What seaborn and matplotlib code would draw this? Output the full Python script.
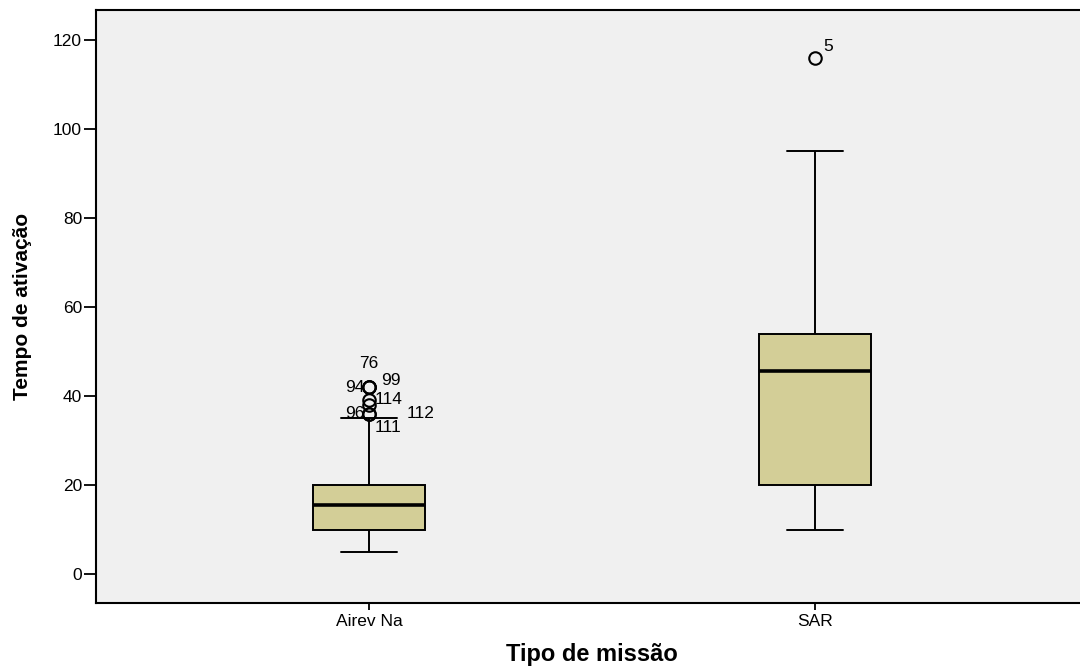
import numpy as np
import pandas as pd
import matplotlib
matplotlib.use("Agg")
import matplotlib.pyplot as plt
import seaborn as sns

airev_na = [5, 5, 6, 7, 8, 8, 9, 10, 10, 10,
            10,
            10, 12, 12, 13, 14, 15, 15, 15, 15,
            15.5,
            16, 16, 17, 18, 18, 19, 20, 20, 20,
            20,
            22, 28, 35, 36, 36, 38, 39, 42, 42, 42]
sar = [10, 15, 18, 20, 30, 40, 45.5, 50, 52, 54, 70, 95, 116]

categories = ["Airev Na", "SAR"]

# case labels of the outliers (category, value, case id)
out_cat = ["Airev Na"] * 7 + ["SAR"]
out_val = [42, 42, 42, 39, 36, 36, 36, 116]
out_id = ["76", "94", "99", "114", "96", "112", "111", "5"]
# label offsets in points (dx, dy, ha)
out_off = [(0, 17, "center"), (-3, 0, "right"), (9, 5, "left"), (4, 1, "left"),
           (-3, 0, "right"), (27, 0, "left"), (4, -10, "left"), (6, 8, "left")]

df = pd.DataFrame({
    "Tipo de missão": ["Airev Na"] * len(airev_na) + ["SAR"] * len(sar),
    "Tempo de ativação": airev_na + sar,
})

sns.set_style("white")
plt.rcParams["font.family"] = ["Liberation Sans", "DejaVu Sans"]
plt.rcParams["text.color"] = "black"
plt.rcParams["axes.labelcolor"] = "black"
plt.rcParams["xtick.color"] = "black"
plt.rcParams["ytick.color"] = "black"

fig = plt.figure(figsize=(10.8, 6.66), dpi=100)
ax = fig.add_axes([0.0889, 0.0946, 0.9185, 0.8904])
ax.set_facecolor("#f0f0f0")

sns.boxplot(data=df, x="Tipo de missão", y="Tempo de ativação", order=categories,
            color="#d3ce97", saturation=1, width=0.25, linewidth=1.4,
            linecolor="black", whis=1.5, ax=ax,
            medianprops=dict(color="black", linewidth=2.6),
            flierprops=dict(marker="o", markerfacecolor="none",
                            markeredgecolor="black", markersize=9,
                            markeredgewidth=1.5))

for c, v, t, (dx, dy, ha) in zip(out_cat, out_val, out_id, out_off):
    ax.annotate(t, (categories.index(c), v), xytext=(dx, dy),
                textcoords="offset points", ha=ha, va="center",
                fontsize=12.5, color="black")

ax.set_xlim(-0.612, 1.612)
ax.set_ylim(-6.5, 126.7)
ax.set_yticks([0, 20, 40, 60, 80, 100, 120])

for s in ["left", "bottom", "top"]:
    ax.spines[s].set_color("black")
    ax.spines[s].set_linewidth(1.5)
ax.spines["right"].set_visible(False)

ax.tick_params(axis="y", direction="out", length=9, width=1.3, labelsize=12.5, pad=1,
               left=True)
ax.tick_params(axis="x", direction="out", length=5, width=1.3, labelsize=12.5, pad=3,
               bottom=True)

ax.set_xlabel("Tipo de missão", fontsize=17, fontweight="bold", labelpad=10)
ax.set_ylabel("Tempo de ativação", fontsize=15, fontweight="bold", labelpad=15)

fig.savefig("out.png", dpi=100, facecolor="white")
